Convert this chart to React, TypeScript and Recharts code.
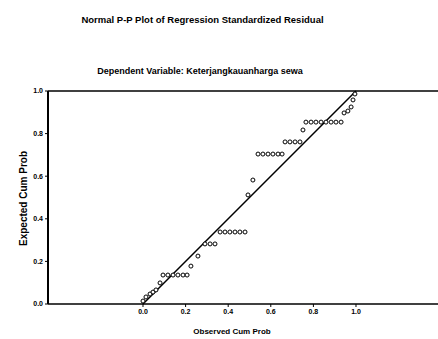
import { ReferenceLine, Scatter, ScatterChart, XAxis, YAxis } from "recharts"

const observed = [
  0.0, 0.014, 0.033, 0.047, 0.061, 0.08,
  0.094, 0.117, 0.141, 0.164, 0.188, 0.207,
  0.225, 0.258,
  0.291, 0.315, 0.338,
  0.362, 0.385, 0.408, 0.432, 0.455, 0.479,
  0.493, 0.516,
  0.54, 0.563, 0.587, 0.61, 0.634, 0.653,
  0.667, 0.69, 0.714, 0.737,
  0.751,
  0.765, 0.789, 0.812, 0.836, 0.859, 0.883, 0.906, 0.93,
  0.944, 0.962, 0.977, 0.986, 0.995,
]
const expected = [
  0.014, 0.033, 0.047, 0.056, 0.066, 0.099,
  0.136, 0.136, 0.136, 0.136, 0.136, 0.136,
  0.178, 0.225,
  0.282, 0.282, 0.282,
  0.338, 0.338, 0.338, 0.338, 0.338, 0.338,
  0.512, 0.582,
  0.704, 0.704, 0.704, 0.704, 0.704, 0.704,
  0.761, 0.761, 0.761, 0.761,
  0.817,
  0.854, 0.854, 0.854, 0.854, 0.854, 0.854, 0.854, 0.854,
  0.897, 0.906, 0.925, 0.958, 0.986,
]
const probTicks = [0, 0.2, 0.4, 0.6, 0.8, 1.0]

const points = observed.map((x, i) => ({ x, y: expected[i] }))

const font = "'Liberation Sans', Arial, sans-serif"
const tickStyle = { fontSize: 7, fontWeight: 700, fill: "#000", fontFamily: font }

export default function App() {
  return (
    <div style={{ position: "relative", width: 438, height: 339, background: "#fff", fontFamily: font, color: "#000" }}>
      <style>{`body{margin:0}`}</style>
      <div style={{ position: "absolute", top: 14, left: 0, width: 405, textAlign: "center", fontSize: 9.5, fontWeight: 700 }}>
        Normal P-P Plot of Regression Standardized Residual
      </div>
      <div style={{ position: "absolute", top: 66, left: 0, width: 400, textAlign: "center", fontSize: 9, fontWeight: 700 }}>
        Dependent Variable: Keterjangkauanharga sewa
      </div>
      <div style={{ position: "absolute", top: 327, left: 132, width: 200, textAlign: "center", fontSize: 8, fontWeight: 700 }}>
        Observed Cum Prob
      </div>
      <div
        style={{
          position: "absolute", top: 193, left: -77, width: 200, textAlign: "center",
          fontSize: 10, fontWeight: 700, transform: "rotate(-90deg)",
        }}
      >
        Expected Cum Prob
      </div>
      <ScatterChart width={438} height={339} margin={{ top: 91, right: 0, left: 18, bottom: 0 }} style={{ position: "absolute", top: 0, left: 0 }}>
        <XAxis
          type="number"
          dataKey="x"
          domain={[-0.446, 1.385]}
          ticks={probTicks}
          tickFormatter={(v: number) => v.toFixed(1)}
          allowDataOverflow
          height={35}
          tickSize={3}
          tick={tickStyle}
          axisLine={{ stroke: "#000", strokeWidth: 1.5 }}
          tickLine={{ stroke: "#000" }}
        />
        <YAxis
          type="number"
          dataKey="y"
          domain={[0, 1]}
          ticks={probTicks}
          tickFormatter={(v: number) => v.toFixed(1)}
          width={30}
          tickSize={3}
          tick={tickStyle}
          axisLine={{ stroke: "#000", strokeWidth: 2 }}
          tickLine={{ stroke: "#000" }}
        />
        <ReferenceLine y={1} stroke="#000" strokeWidth={1.5} />
        <ReferenceLine segment={[{ x: 0, y: 0 }, { x: 1, y: 1 }]} stroke="#000" strokeWidth={1.5} />
        <Scatter
          data={points}
          isAnimationActive={false}
          shape={(p: any) => <circle cx={p.cx} cy={p.cy} r={2} fill="#fff" stroke="#000" strokeWidth={1} />}
        />
      </ScatterChart>
    </div>
  )
}
